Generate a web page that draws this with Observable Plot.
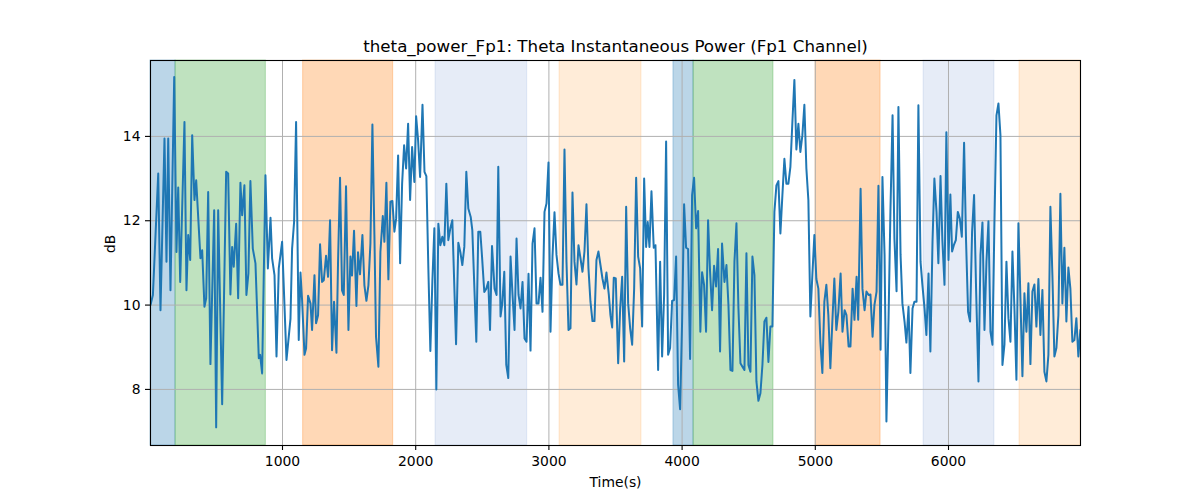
<!DOCTYPE html>
<html>
<head>
<meta charset="utf-8">
<script src="https://cdn.jsdelivr.net/npm/d3@7"></script>
<script src="https://cdn.jsdelivr.net/npm/@observablehq/plot@0.6"></script>
<style>
  html, body { margin: 0; padding: 0; background: white; }
  #chart svg { display: block; }
</style>
</head>
<body>
<div id="chart"></div>
<script>
const titleText = "theta_power_Fp1: Theta Instantaneous Power (Fp1 Channel)";
const xLabel = "Time(s)";
const yLabel = "dB";
const xTicks = [1000, 2000, 3000, 4000, 5000, 6000];
const yTicks = [8, 10, 12, 14];

// time (s)
const time = [
  9,27,67,84,114,129,142,159,187,204,
  217,232,264,279,292,307,322,339,352,384,
  397,414,427,442,459,487,502,517,547,577,
  592,609,622,634,652,667,684,697,714,729,
  744,759,777,797,822,832,847,872,
  890,910,922,940,955,972,997,1030,1060,1072,
  1087,1102,1122,1135,1147,1165,1177,1192,1210,1222,
  1240,1252,1267,1282,1297,1310,1327,1342,1357,1372,
  1387,1405,1417,1432,1447,1460,1477,1495,1510,1522,
  1537,1555,1567,1582,1600,1615,1630,1645,1660,1675,
  1690,1702,
  1720,1735,1753,1765,1780,1795,1810,1825,1840,1853,
  1868,1883,1898,1913,1928,1943,1958,1973,1990,2003,
  2018,2033,2051,2066,2080,2095,2110,2125,2140,2155,
  2170,2185,2200,2215,2230,2245,2260,2275,2303,2320,
  2335,2350,2365,2380,2395,2413,2425,2455,2470,2485,
  2498,2515,2530,2545,2558,2573,
  2592,2607,2620,2637,2650,2665,2680,2695,2712,2727,
  2742,2757,2772,2787,2802,2817,2832,2847,2862,2877,
  2892,2907,2922,2937,2952,2967,2982,2997,3012,3027,
  3042,3057,3072,3087,3102,3117,3132,3147,3162,3177,
  3192,3207,3222,3237,3252,3267,3282,3297,3312,3327,
  3342,3357,3372,3387,3402,3417,3432,
  3450,3462,3475,3487,3502,3520,3535,3550,3565,3580,
  3595,3610,3625,3640,3655,3670,3685,3700,3715,3730,
  3742,3755,3770,3787,3800,3820,3835,3850,3865,3880,
  3895,3910,3925,3940,3955,3970,3985,4000,4015,4030,
  4045,4060,4075,4090,4105,4120,4137,4150,4165,4180,
  4195,4210,4225,4240,4255,4270,4285,4300,
  4318,4333,4348,4363,4378,4393,4408,4423,4438,4453,
  4468,4483,4498,4513,4528,4543,4558,4573,4588,4603,
  4618,4633,4648,4663,4678,4693,4708,4723,4738,4753,
  4768,4783,4798,4813,4828,4843,4858,4873,4888,4903,
  4918,4933,4948,4963,4978,4993,5008,5023,5038,5053,
  5068,5083,5098,5113,5128,5143,5158,5173,
  5190,5204,5220,5234,5250,5264,5280,5294,5310,5322,
  5340,5354,5370,5384,5400,5414,5430,5444,5460,5474,
  5490,5504,5520,5534,5550,5564,5580,5594,5610,5624,
  5640,5654,5670,5684,5700,5714,5730,5744,5760,5774,
  5790,5804,5820,5834,5850,5864,5880,5894,5910,5924,
  5940,5954,5970,5984,6000,6014,6027,
  6040,6055,6070,6085,6100,6117,6132,6147,6162,6177,
  6192,6207,6225,6240,6255,6270,6285,6300,6315,6330,
  6345,6360,6375,6390,6405,6420,6435,6450,6465,6480,
  6495,6510,6525,6540,6555,6570,6585,6600,6615,6630,
  6645,6660,6675,6690,6705,6720,6735,6750,6765,6780,
  6795,6810,6825,6840,6855,6870,6885,6900,6915,6930,
  6945,6960,6975,6990
];

// theta power (dB)
const power = [
  10.00,10.24,13.12,9.88,13.95,11.03,13.95,10.35,15.41,11.26,
  12.79,10.55,14.34,10.35,11.66,11.07,14.03,12.49,12.96,11.11,
  11.30,9.96,10.16,12.68,8.60,12.25,7.10,12.25,7.65,13.16,
  13.12,10.25,11.38,10.91,11.93,10.16,12.90,12.13,12.84,10.24,
  10.75,12.94,11.34,10.99,8.74,8.82,8.38,13.08,
  10.87,12.07,11.11,10.71,8.78,10.87,11.50,8.70,9.68,11.34,
  11.97,14.34,9.17,10.77,10.12,8.82,8.97,10.22,10.04,9.41,
  10.71,9.57,9.76,11.44,10.55,10.59,11.17,10.67,12.01,8.93,
  10.08,8.87,11.03,13.02,10.35,10.24,12.82,9.41,11.15,10.70,
  11.76,9.98,11.25,10.73,11.66,10.47,10.10,10.47,11.46,14.28,
  11.66,9.25,
  8.54,11.26,12.11,11.50,12.90,10.61,12.45,12.47,11.74,12.05,
  13.55,10.99,12.88,13.79,13.24,14.30,12.49,13.75,12.92,14.48,
  13.91,13.04,14.75,13.16,13.06,10.87,8.91,10.55,11.82,8.00,
  11.93,11.42,11.62,11.42,12.88,11.54,11.82,12.01,9.07,11.48,
  11.26,10.95,11.38,13.16,12.29,12.09,11.78,9.13,11.74,11.74,
  11.15,10.31,10.39,10.55,9.41,11.40,
  10.39,10.24,13.28,9.73,10.04,10.79,8.58,8.27,11.15,10.24,
  9.41,11.58,10.24,9.92,10.55,9.21,9.13,10.74,8.92,11.46,
  11.82,10.04,10.04,10.65,9.84,12.21,12.41,13.38,9.37,11.15,
  12.20,11.19,10.75,10.48,10.48,13.69,11.03,9.41,9.45,12.67,
  11.03,10.49,11.42,11.11,10.79,11.27,12.39,10.87,10.08,9.62,
  9.62,11.07,11.27,10.95,10.63,10.39,10.77,
  10.24,9.76,9.47,10.65,10.63,8.62,9.92,10.67,8.66,12.33,
  10.04,9.45,9.06,10.39,13.02,11.15,10.87,9.49,13.00,11.38,
  11.97,11.38,12.70,11.36,11.42,8.46,11.03,8.78,10.24,13.88,
  8.82,8.98,10.10,10.12,11.15,8.11,7.53,9.61,12.39,11.36,
  11.33,8.72,12.61,13.02,11.82,12.23,9.37,10.78,10.48,9.37,
  12.01,10.79,9.88,10.93,10.44,11.33,8.90,11.46,
  10.55,10.95,10.00,8.46,8.44,11.03,11.94,9.92,8.62,8.54,
  8.46,11.23,8.58,8.42,11.15,10.71,8.19,7.73,7.91,8.58,
  9.61,9.70,8.65,9.49,9.49,12.21,12.84,12.94,11.70,12.61,
  13.47,12.88,12.88,13.28,14.34,15.34,13.69,14.30,13.63,14.03,
  14.75,13.24,12.49,9.73,10.71,11.66,10.62,10.39,9.13,8.39,
  10.08,10.48,9.76,8.50,9.61,10.63,9.41,9.84,
  10.75,9.37,9.88,9.76,9.02,9.02,10.39,9.65,10.67,9.65,
  12.76,10.39,9.88,10.32,10.24,10.25,9.25,10.00,10.32,12.83,
  8.94,13.04,11.19,7.24,9.69,12.21,14.50,11.58,10.33,14.70,
  11.19,10.04,9.61,9.11,9.96,8.39,9.92,10.08,10.08,14.74,
  11.03,10.48,9.92,9.29,10.75,8.90,11.50,13.00,12.21,10.99,
  13.06,11.54,10.48,14.10,11.07,12.62,11.27,
  11.42,11.54,12.21,12.05,11.62,13.85,11.50,9.84,9.61,11.74,
  12.61,10.39,8.19,11.19,11.96,9.41,11.03,11.99,9.37,9.06,
  11.97,14.50,14.78,14.03,8.58,9.06,11.03,9.69,9.13,11.27,
  9.92,8.23,11.94,10.16,8.31,10.28,9.37,10.52,8.60,10.32,
  10.49,9.49,10.62,9.29,10.36,8.42,8.19,8.82,12.33,10.71,
  8.78,8.98,9.76,12.64,10.04,11.36,9.61,10.89,10.39,9.13,
  9.17,9.69,8.78,9.41
];

// shaded segments
const bandStart = [9, 197, 1155, 2149, 3080, 3935, 4086, 5002, 5813, 6533];
const bandEnd   = [197, 875, 1831, 2837, 3695, 4086, 4686, 5490, 6345, 6991];
const bandKind  = ["A", "B", "C", "D", "E", "A", "B", "C", "D", "E"];

// styles (kept separate from the data)
const bandStyle = {
  A: {color: "#1f77b4", alpha: 0.3},
  B: {color: "#2ca02c", alpha: 0.3},
  C: {color: "#ff7f0e", alpha: 0.3},
  D: {color: "#3b6fc4", alpha: 0.13},
  E: {color: "#ff8c1a", alpha: 0.17}
};

const n = Math.min(time.length, power.length);
if (time.length !== power.length) console.warn("length mismatch", time.length, power.length);
const rows = d3.range(n).map(i => ({t: time[i], v: power[i]}));
const bands = bandStart.map((s, i) => ({start: s, end: bandEnd[i], kind: bandKind[i]}));

const xDomain = [time[0], 6991];
const yDomain = [6.67, 15.8];

const bandMarks = Object.keys(bandStyle).map(k =>
  Plot.rect(bands.filter(b => b.kind === k), {
    x1: "start", x2: "end",
    fill: bandStyle[k].color, fillOpacity: bandStyle[k].alpha,
    stroke: bandStyle[k].color, strokeOpacity: bandStyle[k].alpha, strokeWidth: 1
  })
);

const chart = Plot.plot({
  width: 1200,
  height: 500,
  marginLeft: 150,
  marginRight: 120,
  marginTop: 60,
  marginBottom: 55,
  style: {fontFamily: "DejaVu Sans", fontSize: "13.9px", background: "white", color: "black", overflow: "visible"},
  x: {domain: xDomain},
  y: {domain: yDomain},
  marks: [
    ...bandMarks,
    Plot.gridX(xTicks, {stroke: "#b0b0b0", strokeOpacity: 1, strokeWidth: 1}),
    Plot.gridY(yTicks, {stroke: "#b0b0b0", strokeOpacity: 1, strokeWidth: 1}),
    Plot.line(rows, {x: "t", y: "v", stroke: "#1f77b4", strokeWidth: 2, clip: true}),
    Plot.axisX(xTicks, {tickSize: 5, tickPadding: 6, strokeWidth: 1.1, label: null, fontSize: 13.9, tickFormat: d3.format("d")}),
    Plot.axisY(yTicks, {tickSize: 5, tickPadding: 5, strokeWidth: 1.1, label: null, fontSize: 13.9, tickFormat: d3.format("d")}),
    Plot.frame({stroke: "black", strokeWidth: 1.1}),
    Plot.text([titleText], {frameAnchor: "top", lineAnchor: "bottom", dy: -9, fontSize: 16.7, fill: "black"}),
    Plot.text([xLabel], {frameAnchor: "bottom", lineAnchor: "bottom", dy: 41, fontSize: 13.9, fill: "black"}),
    Plot.text([yLabel], {frameAnchor: "left", lineAnchor: "middle", dx: -40, rotate: -90, fontSize: 13.9, fill: "black"})
  ]
});

document.getElementById("chart").appendChild(chart);
</script>
</body>
</html>
